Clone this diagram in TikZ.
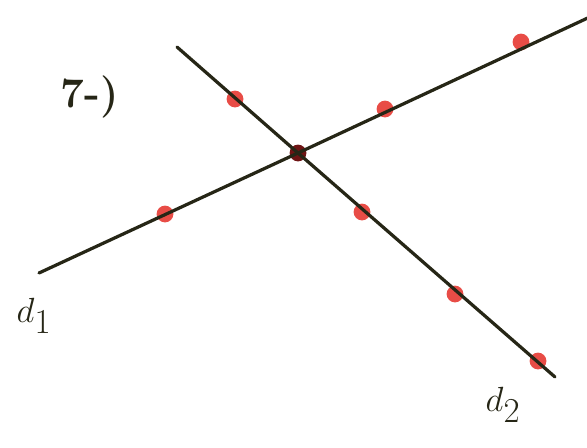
\documentclass[tikz,border=0pt]{standalone}
\usepackage{tikz}
\definecolor{penink}{RGB}{38,38,22}
\definecolor{dotred}{RGB}{228,45,38}
\definecolor{crossred}{RGB}{110,20,20}
\tikzset{
  lineseg/.style={draw=penink,line width=2.3pt,line cap=round},
  reddot/.style={circle,fill=dotred,fill opacity=0.85,inner sep=0pt,minimum size=0.42cm},
  crossdot/.style={circle,fill=crossred,inner sep=0pt,minimum size=0.42cm},
  handlabel/.style={text=penink,font=\fontsize{30}{32}\selectfont},
  linelabel/.style={text=penink,font=\fontsize{38}{40}\selectfont}
}
\begin{document}
\begin{tikzpicture}[x=0.025cm,y=-0.025cm]
      \useasboundingbox (0,0) rectangle (587,448);
      % ends of the two lines
      \coordinate (d1a) at (39,273);
      \coordinate (d1b) at (592,16);
      \coordinate (d2a) at (177,47);
      \coordinate (d2b) at (555,377);
      % points on the lines
      \node[reddot] (p1) at (165,214) {};
      \node[reddot] (p2) at (385,109) {};
      \node[reddot] (p3) at (521,42) {};
      \node[reddot] (q1) at (235,99) {};
      \node[reddot] (q2) at (362,212) {};
      \node[reddot] (q3) at (455,294) {};
      \node[reddot] (q4) at (538,361) {};
      \node[crossdot] (o) at (298,153) {};
      \draw[lineseg] (d1a) -- (o.center) -- (d1b);
      \draw[lineseg] (d2a) -- (o.center) -- (d2b);
      \node[handlabel] (num) at (90,97) {\bfseries 7-)};
      \node[linelabel] (l1) at (34,316) {$d_1$};
      \node[linelabel] (l2) at (503,405) {$d_2$};
    \end{tikzpicture}
\end{document}
